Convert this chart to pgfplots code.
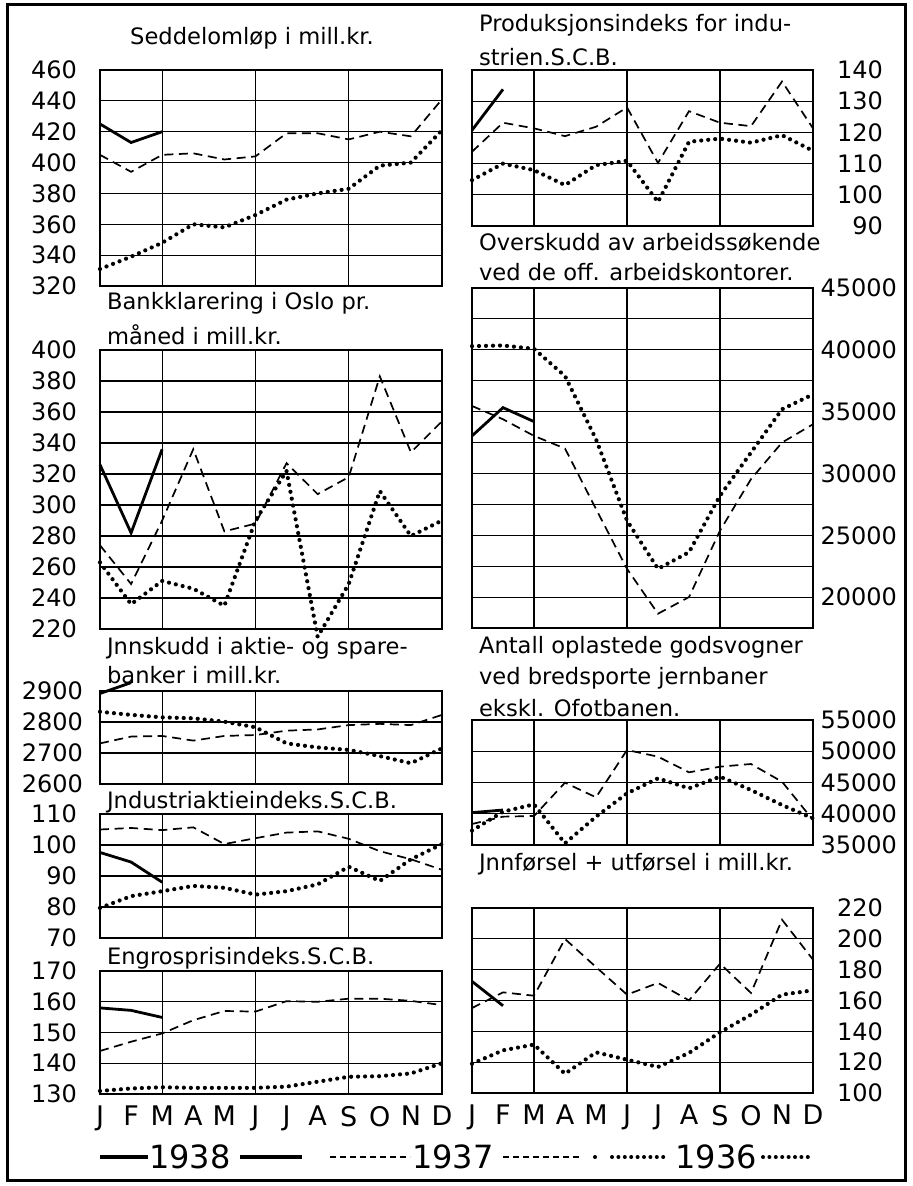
\documentclass[border=0pt]{standalone}
\usepackage{fontspec}
\setmainfont{DejaVu Sans}
\usepackage{pgfplots}
\pgfplotsset{compat=1.18}
\newcommand{\tf}{\fontsize{11.3}{13}\selectfont}
\pgfplotsset{
 panel/.style={scale only axis, anchor=north west, xmin=0, xmax=11, clip=false,
   axis line style={line width=0.9pt},
   major tick length=0pt, minor tick length=0pt,
   xtick={2,5,8}, xticklabels={},
   xmajorgrids, ymajorgrids,
   grid style={line width=0.55pt, black},
   minor grid style={line width=0.55pt, black},
   tick label style={font=\fontsize{12}{13}\selectfont},
   /pgf/number format/assume math mode=true,
   /pgf/number format/1000 sep={},
   scaled y ticks=false,
 },
 leftp/.style={panel, width=171pt, yticklabel style={xshift=#1}},
 leftp/.default=-8pt,
 rightp/.style={panel, width=170.5pt, yticklabel pos=right, yticklabel style={anchor=east, xshift=#1}},
 months/.style={xtick={0,...,11}, xticklabels={J,F,M,A,M,J,J,A,S,O,N,D}, xmajorgrids=false,
   extra x ticks={2,5,8}, extra x tick labels={}, extra x tick style={grid=major},
   xticklabel style={font=\fontsize{13.5}{15}\selectfont, yshift=-2.5pt}},
 s38/.style={black, line width=1.4pt, solid},
 s37/.style={black, line width=0.85pt, dash pattern=on 4.5pt off 2.8pt},
 s36/.style={black, line width=2.1pt, line cap=round, dash pattern=on 0pt off 3.5pt},
}
\begin{document}
\begin{tikzpicture}
\useasboundingbox (0,0) rectangle (456pt,-593pt);
\draw[line width=1.5pt] (3.5pt,-2.5pt) rectangle (452.5pt,-590pt);

% ---------------- Seddelomlop
\node[font=\tf] at (126pt,-19pt) {Seddelomløp i mill.kr.};
\begin{axis}[leftp, at={(50pt,-35pt)}, height=108pt, ymin=320, ymax=460, ytick={320,340,...,460}]
\addplot[s37] coordinates {(0,405)(1,394)(2,405)(3,406)(4,402)(5,404)(6,419)(7,419)(8,415)(9,420)(10,417)(11,441)};
\addplot[s36] coordinates {(0,331)(1,339)(2,348)(3,360)(4,358)(5,366)(6,376)(7,380)(8,383)(9,398)(10,400)(11,421)};
\addplot[s38] coordinates {(0,425)(1,413)(2,420)};
\end{axis}

% ---------------- Bankklarering
\node[font=\tf, anchor=west] at (50pt,-151.5pt) {Bankklarering i Oslo pr.};
\node[font=\tf, anchor=west] at (50pt,-167.5pt) {måned i mill.kr.};
\begin{axis}[leftp, at={(50pt,-175pt)}, height=139.5pt, ymin=220, ymax=400, ytick={220,240,...,400}]
\addplot[s37] coordinates {(0,274)(1,249)(2,290)(3,336)(4,283)(5,288)(6,327)(7,307)(8,318)(9,383)(10,334)(11,354)};
\addplot[s36] coordinates {(0,263)(1,236)(2,251)(3,246)(4,235)(5,290)(6,322)(7,215)(8,249)(9,309)(10,280)(11,290)};
\addplot[s38] coordinates {(0,326)(1,282)(2,336)};
\end{axis}

% ---------------- Innskudd
\node[font=\tf, anchor=west] at (50pt,-324pt) {Jnnskudd i aktie- og spare-};
\node[font=\tf, anchor=west] at (50pt,-337.5pt) {banker i mill.kr.};
\begin{axis}[leftp=-5pt, at={(50pt,-345.5pt)}, height=46.5pt, ymin=2600, ymax=2900, ytick={2600,2700,2800,2900}]
\addplot[s37] coordinates {(0,2731)(1,2753)(2,2755)(3,2740)(4,2755)(5,2758)(6,2772)(7,2776)(8,2790)(9,2794)(10,2790)(11,2823)};
\addplot[s36] coordinates {(0,2833)(1,2823)(2,2815)(3,2812)(4,2801)(5,2783)(6,2731)(7,2718)(8,2710)(9,2690)(10,2667)(11,2715)};
\addplot[s38] coordinates {(0,2892)(1,2927)};
\end{axis}

% ---------------- Industriaktieindeks
\node[font=\tf, anchor=west] at (50pt,-401pt) {Jndustriaktieindeks.S.C.B.};
\begin{axis}[leftp, at={(50pt,-407pt)}, height=62pt, ymin=70, ymax=110, ytick={70,80,...,110}]
\addplot[s37] coordinates {(0,105)(1,105.5)(2,104.8)(3,105.7)(4,100.3)(5,102.2)(6,104)(7,104.4)(8,102)(9,98)(10,95.4)(11,92)};
\addplot[s36] coordinates {(0,79.7)(1,83.5)(2,85.1)(3,86.8)(4,86.2)(5,84)(6,85.1)(7,87.3)(8,93)(9,88.4)(10,95.4)(11,100.3)};
\addplot[s38] coordinates {(0,97.6)(1,94.5)(2,88)};
\end{axis}

% ---------------- Engrosprisindeks
\node[font=\tf, anchor=west] at (50pt,-479pt) {Engrosprisindeks.S.C.B.};
\begin{axis}[leftp, months, at={(50pt,-485.5pt)}, height=61.5pt, ymin=130, ymax=170, ytick={130,140,...,170}]
\addplot[s37] coordinates {(0,144)(1,147)(2,149.7)(3,154)(4,157)(5,156.8)(6,160.2)(7,160)(8,161)(9,161)(10,160.3)(11,158.9)};
\addplot[s36] coordinates {(0,131)(1,131.8)(2,132.2)(3,132)(4,132)(5,132)(6,132.4)(7,134)(8,135.6)(9,135.8)(10,136.7)(11,140)};
\addplot[s38] coordinates {(0,158)(1,157.2)(2,154.9)};
\end{axis}

% ---------------- Produksjonsindeks
\node[font=\tf, anchor=west] at (236pt,-12.5pt) {Produksjonsindeks for indu-};
\node[font=\tf, anchor=west] at (236pt,-28.5pt) {strien.S.C.B.};
\begin{axis}[rightp=38.5pt, at={(236pt,-35pt)}, height=78pt, ymin=90, ymax=140, ytick={90,100,...,140}]
\addplot[s37] coordinates {(0,113.8)(1,123.1)(2,121.3)(3,118.8)(4,121.8)(5,128)(6,110.2)(7,126.8)(8,123.1)(9,122)(10,136.3)(11,121.3)};
\addplot[s36] coordinates {(0,104.7)(1,110)(2,107.9)(3,103.1)(4,109.5)(5,110.9)(6,97.7)(7,117)(8,118)(9,116.7)(10,119.1)(11,114.1)};
\addplot[s38] coordinates {(0,120.7)(1,133.8)};
\end{axis}

% ---------------- Overskudd
\node[font=\tf, anchor=west] at (236pt,-121pt) {Overskudd av arbeidssøkende};
\node[font=\tf, anchor=west] at (236pt,-136pt) {ved de off. arbeidskontorer.};
\begin{axis}[rightp=45.5pt, at={(236pt,-144pt)}, height=170pt, ymin=17500, ymax=45000,
  ytick={20000,25000,...,45000}, minor ytick={22500,27500,32500,37500,42500}, yminorgrids]
\addplot[s37] coordinates {(0,35457)(1,34382)(2,33038)(3,32017)(4,27124)(5,22286)(6,18657)(7,20000)(8,25376)(9,29544)(10,32500)(11,33979)};
\addplot[s36] coordinates {(0,40296)(1,40350)(2,40081)(3,37877)(4,32769)(5,26184)(6,22286)(7,23630)(8,28200)(9,31694)(10,35189)(11,36398)};
\addplot[s38] coordinates {(0,33038)(1,35323)(2,34194)};
\end{axis}

% ---------------- Antall godsvogner
\node[font=\tf, anchor=west] at (236pt,-323.5pt) {Antall oplastede godsvogner};
\node[font=\tf, anchor=west] at (236pt,-339pt) {ved bredsporte jernbaner};
\node[font=\tf, anchor=west] at (236pt,-354pt) {ekskl. Ofotbanen.};
\begin{axis}[rightp=45.5pt, at={(236pt,-360pt)}, height=62.5pt, ymin=35000, ymax=55000, ytick={35000,40000,...,55000}]
\addplot[s37] coordinates {(0,38360)(1,39533)(2,39640)(3,44974)(4,42627)(5,50200)(6,49133)(7,46627)(8,47533)(9,47960)(10,45134)(11,39000)};
\addplot[s36] coordinates {(0,37300)(1,40330)(2,41500)(3,35267)(4,39533)(5,43267)(6,45667)(7,44067)(8,45933)(9,43800)(10,41400)(11,39267)};
\addplot[s38] coordinates {(0,40174)(1,40600)};
\end{axis}

% ---------------- Innforsel + utforsel
\node[font=\tf, anchor=west] at (236pt,-432pt) {Jnnførsel + utførsel i mill.kr.};
\begin{axis}[rightp=38.5pt, months, at={(236pt,-454pt)}, height=92.5pt, ymin=100, ymax=220, ytick={100,120,...,220}]
\addplot[s37] coordinates {(0,155.1)(1,165.3)(2,163.1)(3,199.9)(4,181.7)(5,163.8)(6,171.4)(7,160.1)(8,183.9)(9,164.9)(10,212.4)(11,186.5)};
\addplot[s36] coordinates {(0,119)(1,127.7)(2,131.4)(3,112.5)(4,126.4)(5,121.6)(6,116.9)(7,126)(8,139.4)(9,150.8)(10,163.8)(11,166.6)};
\addplot[s38] coordinates {(0,172.4)(1,156.6)};
\end{axis}

% ---------------- legend
\draw[line width=1.8pt] (50pt,-578.5pt) -- (74pt,-578.5pt);
\node[font=\fontsize{16}{18}\selectfont] at (95pt,-578.5pt) {1938};
\draw[line width=1.8pt] (120pt,-578.5pt) -- (151pt,-578.5pt);
\draw[line width=1.1pt, dash pattern=on 3pt off 2pt] (165pt,-578.5pt) -- (205pt,-578.5pt);
\node[font=\fontsize{16}{18}\selectfont] at (226.5pt,-578.5pt) {1937};
\draw[line width=1.1pt, dash pattern=on 3pt off 2pt] (251.5pt,-578.5pt) -- (290pt,-578.5pt);
\draw[line width=2pt, line cap=round, dash pattern=on 0pt off 3.2pt] (297.5pt,-578.5pt) -- (297.6pt,-578.5pt);
\draw[line width=2pt, line cap=round, dash pattern=on 0pt off 3.2pt] (306pt,-578.5pt) -- (334pt,-578.5pt);
\node[font=\fontsize{16}{18}\selectfont] at (358pt,-578.5pt) {1936};
\draw[line width=2pt, line cap=round, dash pattern=on 0pt off 3.2pt] (381.5pt,-578.5pt) -- (406.5pt,-578.5pt);
\end{tikzpicture}
\end{document}
